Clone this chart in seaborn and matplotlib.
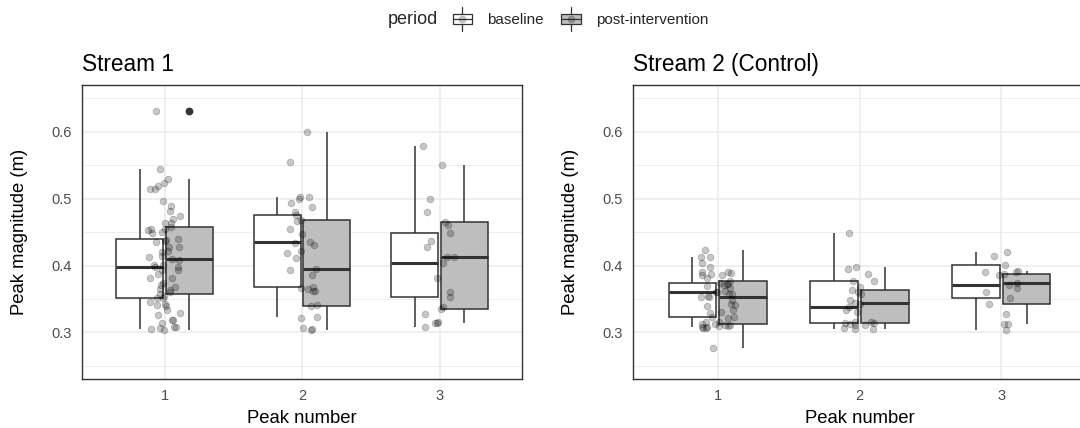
import numpy as np
import pandas as pd
import matplotlib
matplotlib.use("Agg")
import matplotlib.pyplot as plt
import seaborn as sns
from matplotlib.legend_handler import HandlerBase
from matplotlib.patches import Rectangle, Patch
from matplotlib.lines import Line2D

# ---------------------------------------------------------------- data
streams = ["Stream 1", "Stream 2 (Control)"]
peaks = ["1", "2", "3"]
periods = ["baseline", "post-intervention"]

# Stream 1 peak magnitudes (m)
s1_peak1_baseline = [0.3055, 0.308, 0.314, 0.318, 0.329, 0.339, 0.343, 0.346, 0.3518,
                     0.355, 0.361, 0.368, 0.371, 0.381, 0.388, 0.393, 0.3977, 0.401,
                     0.409, 0.413, 0.421, 0.428, 0.435, 0.438, 0.439, 0.448, 0.454,
                     0.470, 0.481, 0.497, 0.514, 0.523, 0.5436]
s1_peak1_post = [0.3035, 0.306, 0.308, 0.319, 0.326, 0.333, 0.341, 0.351, 0.3573,
                 0.363, 0.365, 0.374, 0.381, 0.393, 0.398, 0.401, 0.4096, 0.414,
                 0.420, 0.428, 0.436, 0.450, 0.453, 0.454, 0.458, 0.463, 0.464,
                 0.474, 0.489, 0.515, 0.519, 0.5287, 0.631]
s1_peak2_baseline = [0.3224, 0.341, 0.362, 0.366, 0.3683, 0.394, 0.412, 0.422, 0.4345,
                     0.447, 0.454, 0.467, 0.4754, 0.480, 0.494, 0.500, 0.5018]
s1_peak2_post = [0.3035, 0.305, 0.307, 0.321, 0.3399, 0.362, 0.365, 0.386, 0.3942,
                 0.419, 0.430, 0.434, 0.4674, 0.488, 0.503, 0.555, 0.599]
s1_peak3_baseline = [0.3075, 0.3135, 0.3533, 0.381, 0.4041, 0.413, 0.4485, 0.460, 0.5785]
s1_peak3_post = [0.3145, 0.316, 0.327, 0.3344, 0.338, 0.360, 0.4131, 0.428, 0.437,
                 0.4654, 0.480, 0.499, 0.5496]

# Stream 2 (control) peak magnitudes (m)
s2_peak1_baseline = [0.3075, 0.309, 0.311, 0.313, 0.316, 0.321, 0.3234, 0.329, 0.339,
                     0.343, 0.348, 0.355, 0.3608, 0.362, 0.366, 0.369, 0.371, 0.373,
                     0.3742, 0.382, 0.386, 0.387, 0.390, 0.404, 0.4126]
s2_peak1_post = [0.2766, 0.306, 0.306, 0.308, 0.309, 0.311, 0.312, 0.316, 0.323,
                 0.331, 0.333, 0.341, 0.3523, 0.353, 0.357, 0.358, 0.361, 0.373,
                 0.3762, 0.386, 0.389, 0.390, 0.398, 0.413, 0.4226]
s2_peak2_baseline = [0.3055, 0.306, 0.311, 0.3135, 0.316, 0.330, 0.3374, 0.342, 0.357,
                     0.3762, 0.387, 0.3947, 0.449]
s2_peak2_post = [0.3055, 0.311, 0.313, 0.3135, 0.315, 0.333, 0.3433, 0.348, 0.361,
                 0.3628, 0.368, 0.377, 0.3977]
s2_peak3_baseline = [0.3035, 0.312, 0.3518, 0.360, 0.3712, 0.391, 0.4006, 0.4145, 0.4206]
s2_peak3_post = [0.313, 0.327, 0.3419, 0.367, 0.3737, 0.386, 0.3877, 0.390, 0.3917]

y_ticks = [0.3, 0.4, 0.5, 0.6]
y_tick_labels = ["0.3", "0.4", "0.5", "0.6"]
y_minor = [0.25, 0.35, 0.45, 0.55, 0.65]

groups = {
    ("Stream 1", "1", "baseline"): s1_peak1_baseline,
    ("Stream 1", "1", "post-intervention"): s1_peak1_post,
    ("Stream 1", "2", "baseline"): s1_peak2_baseline,
    ("Stream 1", "2", "post-intervention"): s1_peak2_post,
    ("Stream 1", "3", "baseline"): s1_peak3_baseline,
    ("Stream 1", "3", "post-intervention"): s1_peak3_post,
    ("Stream 2 (Control)", "1", "baseline"): s2_peak1_baseline,
    ("Stream 2 (Control)", "1", "post-intervention"): s2_peak1_post,
    ("Stream 2 (Control)", "2", "baseline"): s2_peak2_baseline,
    ("Stream 2 (Control)", "2", "post-intervention"): s2_peak2_post,
    ("Stream 2 (Control)", "3", "baseline"): s2_peak3_baseline,
    ("Stream 2 (Control)", "3", "post-intervention"): s2_peak3_post,
}
rows = [(s, p, per, v) for (s, p, per), vals in groups.items() for v in vals]
df = pd.DataFrame(rows, columns=["stream", "peak", "period", "magnitude"])

# ---------------------------------------------------------------- style
sns.set_style("white")
plt.rcParams["font.family"] = ["Liberation Sans", "DejaVu Sans"]

DARK = "#333333"
TICK_TXT = "#4D4D4D"
GRID = "#EBEBEB"
fills = {"baseline": "white", "post-intervention": "#BEBEBE"}

W, H = 1080, 428
fig = plt.figure(figsize=(W / 100, H / 100), dpi=100)
fig.patch.set_facecolor("white")


def px_axes(left, right, top, bottom):
    return fig.add_axes([left / W, 1 - bottom / H, (right - left) / W, (bottom - top) / H])


axes = [px_axes(82, 522, 85, 378.5), px_axes(633, 1086, 85, 378.5)]

np.random.seed(7)
for ax, stream in zip(axes, streams):
    sub = df[df["stream"] == stream]
    sns.boxplot(
        data=sub, x="peak", y="magnitude", hue="period",
        order=peaks, hue_order=periods, palette=fills, saturation=1,
        width=0.72, gap=0.06, linecolor=DARK, linewidth=1.1,
        showcaps=False,
        medianprops=dict(color=DARK, linewidth=2.2),
        whiskerprops=dict(color=DARK, linewidth=1.1),
        flierprops=dict(marker="o", markerfacecolor=DARK, markeredgecolor=DARK,
                        markersize=4.6),
        legend=False, ax=ax, zorder=2,
    )
    sns.stripplot(
        data=sub, x="peak", y="magnitude", order=peaks,
        color="black", edgecolor="black", linewidth=0.6,
        alpha=0.22, size=4.8, jitter=0.12, ax=ax, zorder=3,
    )

    ax.set_xlim(-0.6, 2.6)
    ax.set_ylim(0.2312, 0.6698)
    ax.set_yticks(y_ticks)
    ax.set_yticklabels(y_tick_labels)
    ax.set_yticks(y_minor, minor=True)
    ax.set_axisbelow(True)
    ax.grid(which="major", color=GRID, linewidth=1.1)
    ax.grid(which="minor", axis="y", color=GRID, linewidth=0.6)
    ax.tick_params(which="major", length=3.2, width=0.8, color=DARK,
                   labelcolor=TICK_TXT, labelsize=10.5, pad=4.2)
    ax.tick_params(which="minor", length=0)
    for sp in ax.spines.values():
        sp.set_color(DARK)
        sp.set_linewidth(1.0)
    ax.set_xlabel("Peak number", fontsize=13.3, color="black", labelpad=5)
    ax.set_ylabel("Peak magnitude (m)", fontsize=13.3, color="black", labelpad=17)
    ax.set_title(stream, loc="left", fontsize=16.3, color="black", pad=10)


# ---------------------------------------------------------------- legend
class BoxKey(HandlerBase):
    def __init__(self, fill):
        super().__init__()
        self.fill = fill

    def create_artists(self, legend, orig_handle, xdescent, ydescent,
                       width, height, fontsize, trans):
        x0, y0 = -xdescent, -ydescent
        cx, cy = x0 + width / 2, y0 + height / 2
        bw, bh = width * 0.95, height * 0.5
        box = Rectangle((cx - bw / 2, cy - bh / 2), bw, bh, facecolor=self.fill,
                        edgecolor=DARK, linewidth=0.9, transform=trans)
        wl = Line2D([cx, cx], [y0 - height * 0.15, cy - bh / 2], color=DARK, lw=0.9,
                    transform=trans)
        wu = Line2D([cx, cx], [cy + bh / 2, y0 + height * 1.15], color=DARK, lw=0.9,
                    transform=trans)
        med = Line2D([cx - bw / 2, cx + bw / 2], [cy, cy], color=DARK, lw=0.9,
                     transform=trans)
        pt = Line2D([cx], [cy], marker="o", markersize=5, color="black",
                    markeredgewidth=0.5, alpha=0.22, linestyle="none", transform=trans)
        return [box, wl, wu, med, pt]


handles = [Patch(label=p) for p in periods]
fig.text(388 / W, 1 - 19 / H, "period", fontsize=13, va="center", ha="left")
fig.legend(
    handles=handles, labels=periods,
    handler_map={h: BoxKey(fills[p]) for h, p in zip(handles, periods)},
    loc="center left", bbox_to_anchor=(452 / W, 1 - 19 / H),
    ncol=2, frameon=False, fontsize=11, borderpad=0, borderaxespad=0,
    handlelength=1.35, handleheight=1.5, handletextpad=0.95, columnspacing=1.1,
)

fig.savefig("out.png", dpi=100)
